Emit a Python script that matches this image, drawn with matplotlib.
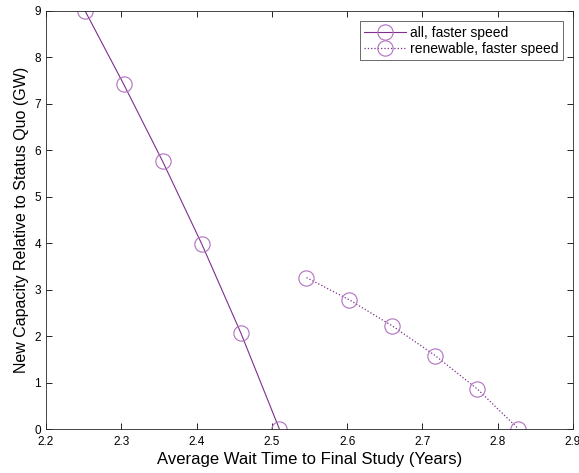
import matplotlib
matplotlib.use("Agg")
import matplotlib.pyplot as plt

plt.rcParams["font.family"] = ["Liberation Sans", "DejaVu Sans"]

# data
all_x = [2.252, 2.303, 2.355, 2.407, 2.459, 2.510]
all_y = [9.0, 7.43, 5.76, 3.98, 2.06, 0.0]
ren_x = [2.546, 2.603, 2.660, 2.717, 2.773, 2.827]
ren_y = [3.26, 2.78, 2.22, 1.58, 0.86, 0.01]

purple = "#7e2f8e"

fig = plt.figure(figsize=(5.79, 4.73), dpi=100)
ax = fig.add_axes([46 / 579, 1 - 429 / 473, (573 - 46) / 579, (429 - 11) / 473])

ax.plot(all_x, all_y, "-", color=purple, lw=0.8, marker="o", ms=11,
        mfc="none", mec="#b070c0", mew=0.8, label="all, faster speed")
ax.plot(ren_x, ren_y, ":", color=purple, lw=0.9, marker="o", ms=11,
        mfc="none", mec="#b070c0", mew=0.8, label="renewable, faster speed")

ax.set_xlim(2.2, 2.9)
ax.set_ylim(0, 9)
ax.set_xticks([2.2, 2.3, 2.4, 2.5, 2.6, 2.7, 2.8, 2.9])
ax.set_yticks(range(0, 10))
ax.tick_params(direction="in", top=True, right=True, labelsize=8.5, length=4, width=0.6)
ax.tick_params(axis="x", pad=5)
for s in ax.spines.values():
    s.set_linewidth(0.6)
    s.set_color("#262626")

ax.set_xlabel("Average Wait Time to Final Study (Years)", fontsize=12, labelpad=3)
ax.set_ylabel("New Capacity Relative to Status Quo (GW)", fontsize=11.5, labelpad=4)

leg = ax.legend(loc="upper right", fontsize=10, fancybox=False, edgecolor="#262626",
                borderaxespad=0.75, handlelength=3.0, handletextpad=0.3,
                borderpad=0.3, labelspacing=0.15)
leg.get_frame().set_linewidth(0.6)

fig.savefig("out.png", dpi=100)
